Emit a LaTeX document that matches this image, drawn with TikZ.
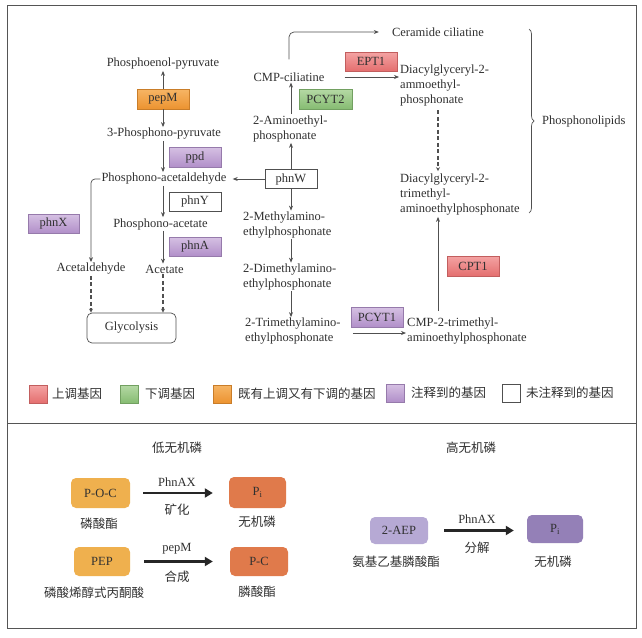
\documentclass[tikz,border=0pt]{standalone}
\usepackage{fontspec}
\setmainfont{Liberation Serif}
\newfontfamily\cjk{Noto Sans CJK SC}
\usetikzlibrary{arrows.meta,decorations.pathreplacing}
\definecolor{txt}{HTML}{303030}
\definecolor{ln}{HTML}{505050}
\definecolor{frame}{HTML}{555555}
\definecolor{redA}{HTML}{F4A3A3}
\definecolor{redB}{HTML}{E46F6F}
\definecolor{grnA}{HTML}{B5D9A5}
\definecolor{grnB}{HTML}{86BC72}
\definecolor{orgA}{HTML}{F6B565}
\definecolor{orgB}{HTML}{EC9330}
\definecolor{purA}{HTML}{D6C1E3}
\definecolor{purB}{HTML}{B18FC9}
\definecolor{pocc}{HTML}{EFB04E}
\definecolor{picc}{HTML}{E07A4B}
\definecolor{aepc}{HTML}{B6A9D4}
\definecolor{pipc}{HTML}{9480B7}
\begin{document}
\begin{tikzpicture}[x=1pt,y=-1pt,
  every node/.style={text=txt},
  font=\fontsize{12.5}{15}\selectfont,
  lbl/.style={inner sep=1pt, align=left},
  lblw/.style={inner sep=1pt, align=left, anchor=west},
  gene/.style={minimum width=52pt, minimum height=20pt, inner sep=0pt, line width=0.5pt},
  genered/.style={gene, draw=redB!85!black, top color=redA, bottom color=redB},
  genegrn/.style={gene, draw=grnB!85!black, top color=grnA, bottom color=grnB},
  geneorg/.style={gene, draw=orgB!85!black, top color=orgA, bottom color=orgB},
  genepur/.style={gene, draw=purB!85!black, top color=purA, bottom color=purB},
  genewht/.style={gene, draw=ln, fill=white, line width=0.7pt},
  legbox/.style={minimum width=18pt, minimum height=18pt, inner sep=0pt, line width=0.5pt},
  arr/.style={draw=ln, line width=0.7pt, -{Stealth[length=5pt,width=4pt]}},
  darr/.style={draw=ln, line width=1.4pt, dash pattern=on 4pt off 2.5pt, -{Stealth[open,length=4pt,width=4pt,line width=0.8pt]}},
  bigarr/.style={draw=black!85, line width=2.5pt, -{Triangle[length=8pt,width=9pt]}},
  pbox/.style={rounded corners=5pt, inner sep=0pt},
]
\useasboundingbox (0,0) rectangle (642,637);
\fill[white] (0,0) rectangle (642,637);
% frames
\draw[frame, line width=1pt] (7,5) rectangle (636,423);
\draw[frame, line width=1pt] (7,423) rectangle (636,628);

% ---------- left column ----------
\node[lbl] (pep) at (163,64) {Phosphoenol-pyruvate};
\node[geneorg] (pepM) at (163,99) {pepM};
\node[lbl] (ppyr) at (164,134) {3-Phosphono-pyruvate};
\node[genepur] (ppd) at (195,157) {ppd};
\node[lbl] (pald) at (164,179) {Phosphono-acetaldehyde};
\node[genewht, minimum height=19pt] (phnY) at (195,201.5) {phnY};
\node[lbl] (pace) at (160.5,224) {Phosphono-acetate};
\node[genepur, minimum height=19pt] (phnA) at (195,246.5) {phnA};
\node[genepur, minimum width=51pt, minimum height=19pt] (phnX) at (53.5,223.5) {phnX};
\node[lbl] (acald) at (91,269) {Acetaldehyde};
\node[lbl] (acet) at (164.5,269) {Acetate};
\node[draw=ln, line width=0.7pt, rounded corners=5pt, minimum width=89pt, minimum height=30pt] (glyc) at (131.5,328) {Glycolysis};

\draw[arr] (pepM.north) -- (pep.south);
\draw[arr] (pepM.south) -- (ppyr.north -| pepM);
\draw[arr] (ppyr.south -| pepM) -- (pald.north -| pepM);
\draw[arr] (pald.south -| pepM) -- (pace.north -| pepM);
\draw[arr] (pace.south -| pepM) -- (acet.north -| pepM);
\draw[arr, rounded corners=4pt] (pald.west) -| (acald.north);
\draw[darr] (acald.south) -- (acald.south |- glyc.north);
\draw[darr] (acet.south -| pepM) -- (glyc.north -| pepM);

% ---------- right column ----------
\node[genewht, minimum height=19pt] (phnW) at (291,179) {phnW};
\draw[arr, shorten >=5pt] (phnW.west) -- (pald.east);
\node[lblw] (amino) at (252,128.5) {2-Aminoethyl-\\phosphonate};
\node[lbl] (cmpc) at (289,77) {CMP-ciliatine};
\node[genegrn, minimum width=53pt] (pcyt2) at (325.5,99) {PCYT2};
\node[lbl] (cer) at (438,32) {Ceramide ciliatine};
\node[genered, minimum height=19pt] (ept1) at (371,61.5) {EPT1};
\node[lblw] (diac1) at (399,85.5) {Diacylglyceryl-2-\\ammoethyl-\\phosphonate};
\node[lblw] (diac2) at (399,195) {Diacylglyceryl-2-\\trimethyl-\\aminoethylphosphonate};
\node[lblw] (meth) at (242,225) {2-Methylamino-\\ethylphosphonate};
\node[lblw] (dimeth) at (242,277) {2-Dimethylamino-\\ethylphosphonate};
\node[lblw] (trimeth) at (244,331.5) {2-Trimethylamino-\\ethylphosphonate};
\node[genepur] (pcyt1) at (377,317) {PCYT1};
\node[lblw] (cmp2) at (406,331.5) {CMP-2-trimethyl-\\aminoethylphosphonate};
\node[genered] (cpt1) at (473,266) {CPT1};
\node[lblw] (plip) at (541,121) {Phosphonolipids};
\coordinate (dx) at (438,0);
\coordinate (braceT) at (529,29);
\coordinate (braceB) at (529,213);

\draw[arr] (phnW.north) -- (amino.south -| phnW);
\draw[arr] (amino.north -| phnW) -- (cmpc.south -| phnW);
\draw[arr, rounded corners=5pt] ([shift={(0,-12)}]cmpc.north) |- ([shift={(-12,0)}]cer.west);
\draw[arr] ([shift={(19,0)}]cmpc.east) -- (cmpc.east -| diac1.west);
\draw[darr, shorten <=3pt, shorten >=2pt] (diac1.south -| dx) -- (diac2.north -| dx);
\draw[arr] (phnW.south) -- (meth.north -| phnW);
\draw[arr] (meth.south -| phnW) -- (dimeth.north -| phnW);
\draw[arr] (dimeth.south -| phnW) -- (trimeth.north -| phnW);
\draw[arr] ([shift={(11,1.5)}]trimeth.east) -- ([shift={(0,1.5)}]cmp2.west);
\draw[arr, shorten <=6pt] (cmp2.north -| dx) -- (diac2.south -| dx);
\draw[ln, line width=0.7pt, decorate, decoration={brace, amplitude=5pt}] (braceT) -- (braceB);

% ---------- legend ----------
\node[legbox, draw=redB!85!black, top color=redA, bottom color=redB] (lgr) at (38,394) {};
\node[lblw] (lgrt) at (51,394) {\cjk 上调基因};
\node[legbox, draw=grnB!85!black, top color=grnA, bottom color=grnB] (lgg) at (129,394) {};
\node[lblw] (lggt) at (144,394) {\cjk 下调基因};
\node[legbox, draw=orgB!85!black, top color=orgA, bottom color=orgB] (lgo) at (222,394) {};
\node[lblw] (lgot) at (237,394) {\cjk 既有上调又有下调的基因};
\node[legbox, draw=purB!85!black, top color=purA, bottom color=purB] (lgp) at (395,393) {};
\node[lblw] (lgpt) at (410,393) {\cjk 注释到的基因};
\node[legbox, draw=ln, fill=white, line width=0.7pt] (lgw) at (511,393) {};
\node[lblw] (lgwt) at (525,393) {\cjk 未注释到的基因};

% ---------- lower panel ----------
\node[lbl] (low) at (177,448) {\cjk 低无机磷};
\node[lbl] (high) at (471,448) {\cjk 高无机磷};

\node[pbox, fill=pocc, minimum width=59pt, minimum height=30pt] (poc) at (100.5,493) {P-O-C};
\node[pbox, fill=picc, minimum width=57pt, minimum height=31pt] (pi1) at (257.5,492.5) {P\textsubscript{i}};
\node[pbox, fill=pocc, minimum width=56pt, minimum height=29pt] (pepb) at (102,561.5) {PEP};
\node[pbox, fill=picc, minimum width=58pt, minimum height=29pt] (pc) at (259,561.5) {P-C};
\node[pbox, fill=aepc, minimum width=58pt, minimum height=27pt] (aep) at (399,530.5) {2-AEP};
\node[pbox, fill=pipc, minimum width=56pt, minimum height=28pt] (pi2) at (555,529) {P\textsubscript{i}};

\node[lbl] (pocl) at (99,524) {\cjk 磷酸酯};
\node[lbl] (pi1l) at (257,522) {\cjk 无机磷};
\node[lbl] (pepl) at (94,593) {\cjk 磷酸烯醇式丙酮酸};
\node[lbl] (pcl) at (257,592) {\cjk 膦酸酯};
\node[lbl] (aepl) at (396,562) {\cjk 氨基乙基膦酸酯};
\node[lbl] (pi2l) at (553,562) {\cjk 无机磷};

\node[lbl] (a1t) at (177,482) {PhnAX};
\node[lbl] (a1b) at (177,510) {\cjk 矿化};
\node[lbl] (a2t) at (177,549) {pepM};
\node[lbl] (a2b) at (177,577) {\cjk 合成};
\node[lbl] (a3t) at (477,519) {PhnAX};
\node[lbl] (a3b) at (477,548) {\cjk 分解};

\draw[bigarr, shorten <=13pt, shorten >=16pt] (poc.east) -- (pi1.west |- poc.east);
\draw[bigarr, shorten <=14pt, shorten >=17pt] (pepb.east) -- (pc.west |- pepb.east);
\draw[bigarr, shorten <=16pt, shorten >=13pt] (aep.east) -- (pi2.west |- aep.east);
\end{tikzpicture}
\end{document}
